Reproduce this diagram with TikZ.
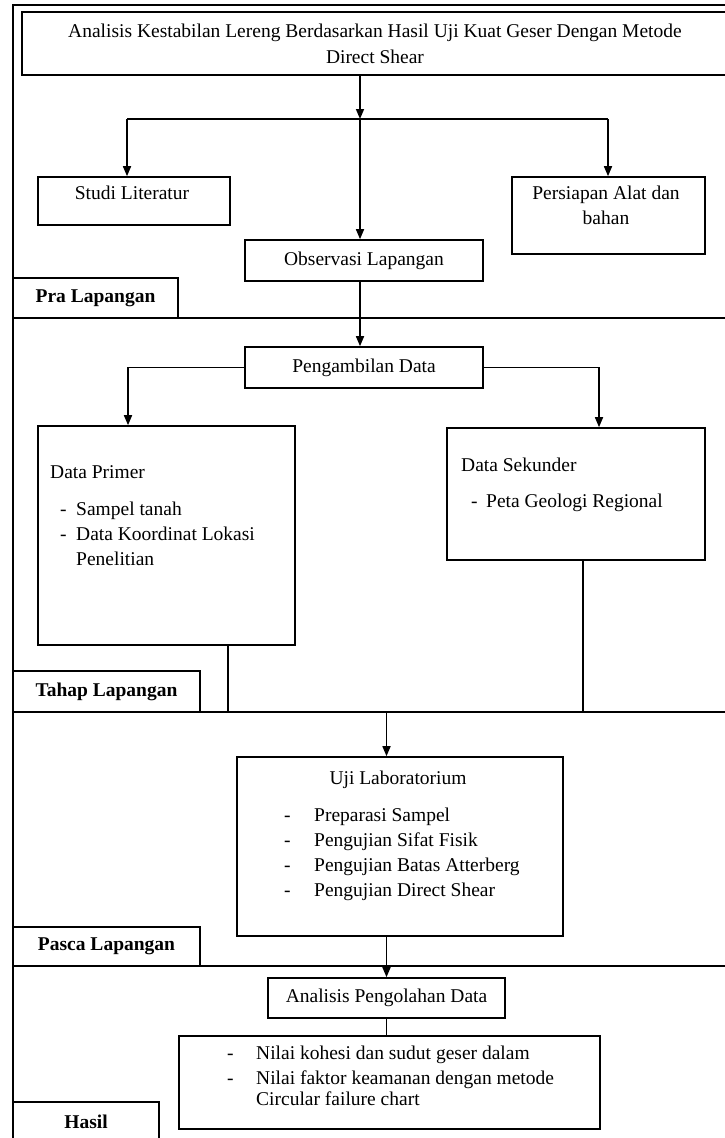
\documentclass[tikz,border=0pt]{standalone}
\usepackage{fontspec}
\setmainfont{Liberation Serif}
\usetikzlibrary{arrows.meta, positioning}

\begin{document}
\begin{tikzpicture}[
			x=1pt, y=-1pt,
			every node/.style={font=\fontsize{19.5}{25}\selectfont, inner sep=0pt},
			block/.style={rectangle, draw, line width=1.6pt},
			stage/.style={block, font=\fontsize{19.5}{25}\selectfont\bfseries},
			txt/.style={align=left},
			line/.style={line width=1.6pt},
			arrow/.style={line width=1.6pt, -{Triangle[length=10pt, width=8pt]}}
			]
			
			\clip (0,0) rectangle (725,1138);
			
			\draw[line] (13,5) rectangle (740,1150);
			\coordinate (sepA) at (13,318);
			\coordinate (sepB) at (13,712);
			\coordinate (sepC) at (13,966);
			\draw[line] (sepA) -- ++(730,0);
			\draw[line] (sepB) -- ++(730,0);
			\draw[line] (sepC) -- ++(730,0);
			
			\node[block, minimum width=706pt, minimum height=63pt, align=center] (judul) at (375,43.5) {Analisis Kestabilan Lereng Berdasarkan Hasil Uji Kuat Geser Dengan Metode\\[1pt]Direct Shear};
			
			\node[block, minimum width=192pt, minimum height=48pt] (studi) at (134,201) {};
			\node[txt, anchor=north] (studi-t) at (132,186) {Studi Literatur};
			\node[block, minimum width=193pt, minimum height=77pt] (alat) at (608.5,215.5) {};
			\node[txt, align=center, anchor=north] (alat-t) at (606,186) {Persiapan Alat dan\\bahan};
			\node[block, minimum width=238pt, minimum height=41pt] (observasi) at (364,260.5) {Observasi Lapangan};
			\node[stage, minimum width=165pt, minimum height=40pt] (pra) at (95.5,298) {Pra Lapangan};
			
			\node[block, minimum width=238pt, minimum height=41pt] (ambil) at (364,367.5) {Pengambilan Data};
			\node[block, minimum width=257pt, minimum height=219pt] (primer) at (166.5,535.5) {};
			\node[txt, anchor=north west] (primer-t) at (50,465) {Data Primer\\[12pt]
				\hspace*{10pt}\makebox[16pt][l]{-}Sampel tanah\\
				\hspace*{10pt}\makebox[16pt][l]{-}Data Koordinat Lokasi\\
				\hspace*{26pt}Penelitian};
			\node[block, minimum width=258pt, minimum height=132pt] (sekunder) at (576,494) {};
			\node[txt, anchor=north west] (sekunder-t) at (461,458) {Data Sekunder\\[11pt]
				\hspace*{10pt}\makebox[15pt][l]{-}Peta Geologi Regional};
			\node[stage, minimum width=187pt, minimum height=41pt] (tahap) at (106.5,691.5) {Tahap Lapangan};
			
			\node[block, minimum width=326pt, minimum height=179pt] (uji) at (400,846.5) {};
			\node[txt, anchor=north] (uji-t) at (398,771) {Uji Laboratorium};
			\node[txt, anchor=north west] (uji-l) at (284,808) {\makebox[30pt][l]{-}Preparasi Sampel\\
				\makebox[30pt][l]{-}Pengujian Sifat Fisik\\
				\makebox[30pt][l]{-}Pengujian Batas Atterberg\\
				\makebox[30pt][l]{-}Pengujian Direct Shear};
			\node[stage, minimum width=187pt, minimum height=39pt] (pasca) at (106.5,946.5) {Pasca Lapangan};
			
			\node[block, minimum width=237pt, minimum height=40pt] (olah) at (386.5,998) {Analisis Pengolahan Data};
			\node[block, minimum width=421pt, minimum height=93pt] (hasil) at (389.5,1082.5) {};
			\node[txt, anchor=north west] (hasil-t) at (227,1046) {\makebox[29pt][l]{-}Nilai kohesi dan sudut geser dalam\\
				\makebox[29pt][l]{-}Nilai faktor keamanan dengan metode\\[-4pt]
				\hspace*{29pt}Circular failure chart};
			\node[stage, minimum width=146pt, minimum height=40pt] (akhir) at (86,1122) {Hasil};
			
			\coordinate (bagi) at (360,119);
			\coordinate (bagi-l) at (127,119);
			\coordinate (bagi-r) at (608,119);
			\draw[arrow] (judul.south -| bagi) -- (bagi);
			\draw[line] (bagi-l) -- (bagi-r);
			\draw[arrow] (bagi-l) -- (studi.north -| bagi-l);
			\draw[arrow] (bagi) -- (observasi.north -| bagi);
			\draw[arrow] (bagi-r) -- (alat.north -| bagi-r);
			\draw[arrow] (observasi.south -| bagi) -- (ambil.north -| bagi);
			\draw[arrow] (ambil.west) -| ([xshift=-38.5pt]primer.north);
			\draw[arrow] (ambil.east) -| ([xshift=23pt]sekunder.north);
			\draw[line] ([xshift=61.5pt]primer.south) -- ([xshift=61.5pt]primer.south |- sepB);
			\draw[line] ([xshift=7pt]sekunder.south) -- ([xshift=7pt]sekunder.south |- sepB);
			\draw[arrow] (olah.north |- sepB) -- (olah.north |- uji.north);
			\draw[arrow] (olah.north |- uji.south) -- (olah.north);
			\draw[line] (olah.south) -- (olah.south |- hasil.north);
		\end{tikzpicture}
\end{document}
